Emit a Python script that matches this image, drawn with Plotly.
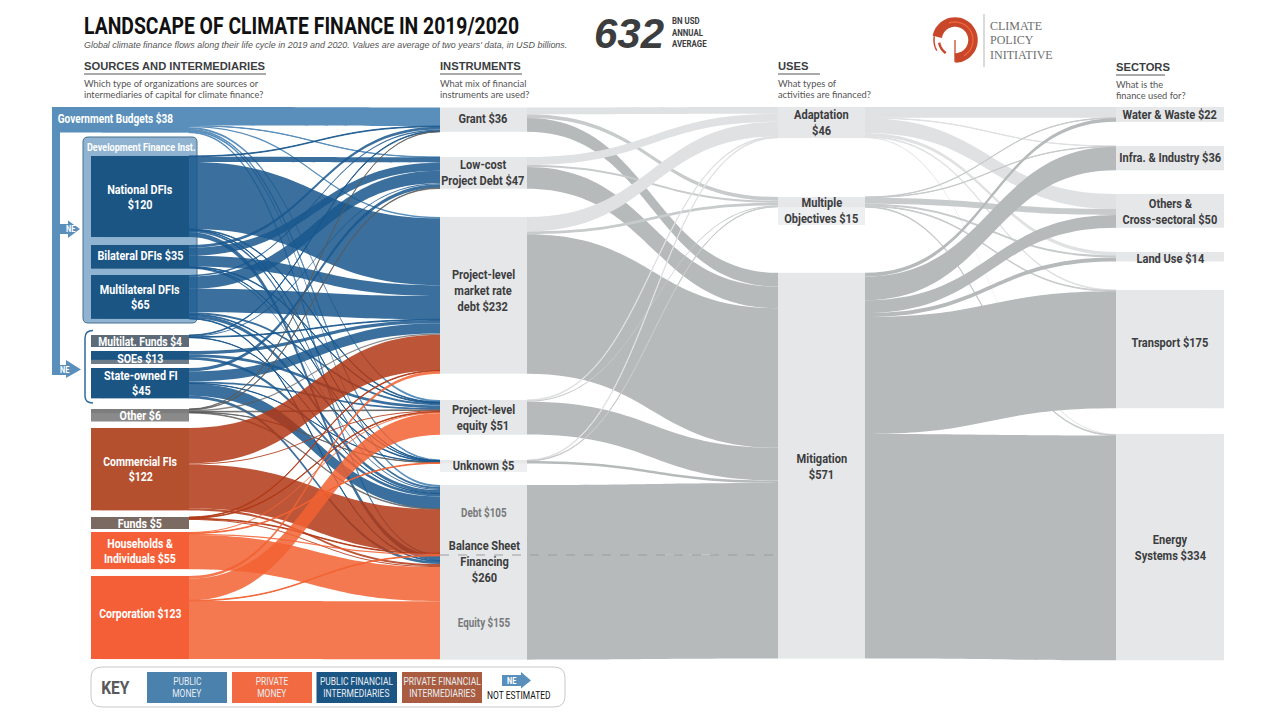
import numpy as np
import plotly.graph_objects as go

W, H = 1279, 719
COND = "Roboto, sans-serif"
SANS = "Lato, Open Sans, sans-serif"

# Values in USD bn
SOURCES = ["Government Budgets", "National DFIs", "Bilateral DFIs", "Multilateral DFIs", "Multilat. Funds",
           "SOEs", "State-owned FI", "Other", "Commercial FIs", "Funds", "Households & Individuals", "Corporation"]
INSTRUMENTS = ["Grant", "Low-cost Project Debt", "Project-level market rate debt", "Project-level equity",
               "Unknown", "Debt", "Equity"]
USES = ["Adaptation", "Multiple Objectives", "Mitigation"]
SECTORS = ["Water & Waste", "Infra. & Industry", "Others & Cross-sectoral", "Land Use", "Transport", "Energy Systems"]

# each row: grant, low-cost, market rate, project equity, unknown, bs debt, bs equity
GOV_FLOWS = [27.5, 0.5, 2, 3, 1, 3, 1]
NATIONAL_FLOWS = [1, 8, 99, 1, 0.5, 3, 7.5]
BILATERAL_FLOWS = [4, 12, 16, 1, 0.5, 1.5, 0]
MULTILATERAL_FLOWS = [2, 18.5, 34.5, 3, 1, 5, 1]
MULTI_FUND_FLOWS = [1, 1.5, 1, 0, 0, 0.5, 0]
SOE_FLOWS = [0, 0, 5, 4, 0, 4, 0]
STATE_FI_FLOWS = [0, 5, 15, 2.5, 0.5, 18, 4]
OTHER_FLOWS = [0.5, 1, 2, 1, 0.5, 1, 0]
COMMERCIAL_FLOWS = [0, 0, 52.5, 1.5, 0, 65, 3]
FUNDS_FLOWS = [0, 0, 1, 1, 0, 1, 1.5]
HOUSEHOLD_FLOWS = [0, 0, 0, 1.5, 1, 2, 50.5]
CORPORATE_FLOWS = [0, 0, 4, 32, 0, 1, 86]

# each row: adaptation, multiple, mitigation
GRANT_USES = [10, 5.5, 20.5]
LOW_COST_USES = [12, 3, 32]
MARKET_USES = [21.5, 4, 206.5]
EQUITY_USES = [1, 1.5, 48.5]
UNKNOWN_USES = [1, 0.5, 3.5]
BS_DEBT_USES = [0, 0, 105]
BS_EQUITY_USES = [0, 0, 155]

# each row: water, infra, others, land use, transport, energy
ADAPTATION_SECTORS = [16, 0.5, 22, 5, 1, 1.5]
MULTIPLE_SECTORS = [0.5, 0.5, 9, 3, 1, 1]
MITIGATION_SECTORS = [5.5, 35, 19, 6, 173, 332.5]

source_flows = [GOV_FLOWS, NATIONAL_FLOWS, BILATERAL_FLOWS, MULTILATERAL_FLOWS, MULTI_FUND_FLOWS, SOE_FLOWS,
                STATE_FI_FLOWS, OTHER_FLOWS, COMMERCIAL_FLOWS, FUNDS_FLOWS, HOUSEHOLD_FLOWS, CORPORATE_FLOWS]
use_flows = [GRANT_USES, LOW_COST_USES, MARKET_USES, EQUITY_USES, UNKNOWN_USES, BS_DEBT_USES, BS_EQUITY_USES]
sector_flows = [ADAPTATION_SECTORS, MULTIPLE_SECTORS, MITIGATION_SECTORS]

GOV = "#5a8fbc"
PUB_NODE = "#1b5583"
PUB_LINK = "rgba(25,87,141,0.85)"
COM_NODE = "#b5502f"
COM_LINK = "rgba(178,56,21,0.85)"
PRI_NODE = "#f55f38"
PRI_LINK = "rgba(242,98,49,0.85)"
GREY_NODE = "#e6e7e8"
GREY_LINK = "#b6babb"
PALE_LINK = "#e0e1e2"
MID_LINK = "#c8cbcc"

source_nodes = [GOV, PUB_NODE, PUB_NODE, PUB_NODE, "#5d6b78", PUB_NODE, PUB_NODE, "#7d7d7d", COM_NODE,
                "#7a6a62", PRI_NODE, PRI_NODE]
source_links = [GOV, PUB_LINK, PUB_LINK, PUB_LINK, PUB_LINK, PUB_LINK, PUB_LINK, "rgba(90,90,90,0.7)", COM_LINK,
                COM_LINK, PRI_LINK, PRI_LINK]
use_colours = [PALE_LINK, MID_LINK, GREY_LINK]

# top edge of each node in pixels
source_top = [107, 156, 245, 275, 335, 351, 368, 409, 428, 517, 532, 576]
instrument_top = [107.5, 157, 217, 400, 460, 485, 555]
use_top = [107, 197, 273]
sector_top = [107, 146, 194, 252, 290, 434]

KY = 0.675
THICK = 87
PAD = 26.64


def px(x):
    return x / W


def py(y):
    return 1 - y / H


labels = SOURCES + INSTRUMENTS + USES + SECTORS
n_src, n_ins, n_use = len(SOURCES), len(INSTRUMENTS), len(USES)

link_s, link_t, link_v, link_c = [], [], [], []
for i, row in enumerate(source_flows):
    for j, v in enumerate(row):
        if v > 0:
            link_s.append(i)
            link_t.append(n_src + j)
            link_v.append(v)
            link_c.append(source_links[i])
for i, row in enumerate(use_flows):
    for j, v in enumerate(row):
        if v > 0:
            link_s.append(n_src + i)
            link_t.append(n_src + n_ins + j)
            link_v.append(v)
            link_c.append(use_colours[j])
for i, row in enumerate(sector_flows):
    for j, v in enumerate(row):
        if v > 0:
            link_s.append(n_src + n_ins + i)
            link_t.append(n_src + n_ins + n_use + j)
            link_v.append(v)
            link_c.append(use_colours[i])

# a node's size is whichever of its in/out totals is larger
node_value = [max(sum(v for s, v in zip(link_s, link_v) if s == k),
                  sum(v for t, v in zip(link_t, link_v) if t == k)) for k in range(len(labels))]

tops = source_top + instrument_top + use_top + sector_top
lefts = [102] * n_src + [440] * n_ins + [778] * n_use + [1116] * len(SECTORS)
node_x = [(lf + THICK / 2) / W for lf in lefts]
node_y = [(t + v * KY / 2) / H for t, v in zip(tops, node_value)]
node_c = source_nodes + [GREY_NODE] * (n_ins + n_use + len(SECTORS))

fig = go.Figure(go.Sankey(
    arrangement="fixed",
    domain={"x": [0, 1], "y": [0, 1]},
    node={"label": [""] * len(labels), "x": node_x, "y": node_y, "color": node_c, "thickness": THICK, "pad": PAD,
          "line": {"width": 0}, "customdata": labels, "hovertemplate": "%{customdata}<extra></extra>"},
    link={"source": link_s, "target": link_t, "value": link_v, "color": link_c, "line": {"width": 0}},
))

shapes = []


def rect(x0, y0, x1, y1, colour, layer="below", line=None, **kw):
    shapes.append(dict(type="rect", xref="paper", yref="paper", x0=px(x0), x1=px(x1), y0=py(y0), y1=py(y1),
                       fillcolor=colour, line=line or {"width": 0}, layer=layer, **kw))


def hline(x0, x1, y, colour, width=1, dash="solid", layer="above"):
    shapes.append(dict(type="line", xref="paper", yref="paper", x0=px(x0), x1=px(x1), y0=py(y), y1=py(y),
                       line={"color": colour, "width": width, "dash": dash}, layer=layer))


def poly(points, fill=None, line=None, layer="below", closed=True):
    d = "M " + " L ".join(f"{px(x):.5f},{py(y):.5f}" for x, y in points)
    shapes.append(dict(type="path", xref="paper", yref="paper", path=d + (" Z" if closed else ""),
                       fillcolor=fill, line=line or {"width": 0}, layer=layer))


def arc(cx, cy, r, a0, a1, colour, width):
    angles = np.radians(np.linspace(a0, a1, 40))
    poly(list(zip(cx + r * np.cos(angles), cy + r * np.sin(angles))), line={"color": colour, "width": width},
         closed=False, layer="above")


def rounded(x0, y0, x1, y1, r, fill, line):
    d = (f"M {px(x0 + r)},{py(y0)} L {px(x1 - r)},{py(y0)} Q {px(x1)},{py(y0)} {px(x1)},{py(y0 + r)} "
         f"L {px(x1)},{py(y1 - r)} Q {px(x1)},{py(y1)} {px(x1 - r)},{py(y1)} L {px(x0 + r)},{py(y1)} "
         f"Q {px(x0)},{py(y1)} {px(x0)},{py(y1 - r)} L {px(x0)},{py(y0 + r)} Q {px(x0)},{py(y0)} {px(x0 + r)},{py(y0)} Z")
    shapes.append(dict(type="path", xref="paper", yref="paper", path=d, fillcolor=fill, line=line, layer="below"))


# development finance box, government strip and NE arrows
rounded(83, 137, 197, 323, 5, "#8fb3d0", {"color": "#46708f", "width": 1})
rect(52, 107, 102, 132.5, GOV)
rect(52, 132, 60, 375, GOV)
poly([(60, 224), (68, 224), (68, 220.5), (80, 229), (68, 238), (68, 234), (60, 234)], fill=GOV)
poly([(52, 365), (66, 365), (66, 360), (81, 369.5), (66, 378), (66, 375), (52, 375)], fill=GOV)

# bracket around the state-owned group
d = (f"M {px(93)},{py(330.5)} Q {px(85)},{py(330.5)} {px(85)},{py(338)} L {px(85)},{py(396)} "
     f"Q {px(85)},{py(403)} {px(93)},{py(403)}")
shapes.append(dict(type="path", xref="paper", yref="paper", path=d, line={"color": "#2f6b9c", "width": 1.5},
                   layer="below"))

# label boxes behind nodes that are too thin for their text
rect(91, 335, 189, 347, "#5d6b78")
rect(91, 351, 189, 364, "#6d7c88")
rect(91, 409, 189, 421.5, "#8a8a8a")
rect(91, 517, 189, 529, "#7a6a62")
rect(778, 197, 865, 225, "#eeeff0")
rect(440, 460, 527, 472, "#eeeff0")

# left part of source nodes and right part of sector nodes, wider than the sankey thickness
for k in range(1, n_src):
    rect(91, source_top[k], 102.5, source_top[k] + node_value[k] * KY, source_nodes[k])
sector_start = n_src + n_ins + n_use
for k in range(len(SECTORS)):
    rect(1202.5, sector_top[k], 1224, sector_top[k] + node_value[sector_start + k] * KY, GREY_NODE)

# balance sheet split line
hline(440, 778, 555, "#9b9d9f", 1, "dash")

# section rules and logo
hline(84, 266, 74, "#555555")
hline(440, 522, 74, "#555555")
hline(778, 820, 74, "#555555")
hline(1116, 1165, 75, "#555555")
shapes.append(dict(type="line", xref="paper", yref="paper", x0=px(984), x1=px(984), y0=py(14), y1=py(67),
                   line={"color": "#b5b5b5", "width": 1}))
arc(955, 40, 18, -170, 90, "#c8472b", 9.5)
arc(955, 40, 18, -110, 60, "#f0663a", 1.3)
arc(955, 40, 21, 150, 190, "#c8472b", 1.5)
arc(955, 40, 16, 125, 170, "#c8472b", 2.5)
shapes.append(dict(type="line", xref="paper", yref="paper", x0=px(955), x1=px(955), y0=py(40), y1=py(62),
                   line={"color": "#c8472b", "width": 1.3}))

# key
rounded(91, 667, 565, 707, 11, "white", {"color": "#c9c9c9", "width": 1})
KEY_BOXES = [(147, 227, "#4a81ad", "PUBLIC<br>MONEY"), (232, 312, "#f26a41", "PRIVATE<br>MONEY"),
             (316.5, 397, PUB_NODE, "PUBLIC FINANCIAL<br>INTERMEDIARIES"),
             (402, 482, "#a95c3f", "PRIVATE FINANCIAL<br>INTERMEDIARIES")]
for x0, x1, colour, _ in KEY_BOXES:
    rect(x0, 672, x1, 703, colour)
poly([(502, 675), (521, 675), (521, 672), (531, 680.5), (521, 688.5), (521, 686), (502, 686)], fill=GOV)

notes = []


def text(x, y, s, size=12, colour="white", font=COND, anchor="center", bold=True, italic=False):
    # one annotation per line, plotly's own line spacing is looser than the original's
    lines = s.split("<br>")
    gap = size * 1.2
    for i, line in enumerate(lines):
        if bold:
            line = "<b>" + line + "</b>"
        if italic:
            line = "<i>" + line + "</i>"
        notes.append(dict(xref="paper", yref="paper", x=px(x), y=py(y + (i - (len(lines) - 1) / 2) * gap), text=line,
                          showarrow=False, xanchor=anchor, yanchor="middle", align=anchor, borderpad=0, borderwidth=0,
                          font={"family": font, "size": size, "color": colour}))


DARK = "#3c3d3f"
text(84, 26, "LANDSCAPE OF CLIMATE FINANCE IN 2019/2020", 23.6, "#111111", anchor="left")
text(84, 45, "Global climate finance flows along their life cycle in 2019 and 2020. Values are average of two "
     "years' data, in USD billions.", 8.95, "#555555", "Liberation Sans", "left", False, True)
text(594, 33, "632", 42, DARK, "Liberation Sans", "left", True, True)
text(672, 32, "BN USD<br>ANNUAL<br>AVERAGE", 9.6, DARK, anchor="left")
text(990, 40.5, "CLIMATE<br>POLICY<br>INITIATIVE", 12, "#6d6e70", "Liberation Serif", "left", False)

text(84, 66, "SOURCES AND INTERMEDIARIES", 11.2, "#3c3d3f", "Liberation Sans", "left")
text(440, 66, "INSTRUMENTS", 11.2, "#3c3d3f", "Liberation Sans", "left")
text(778, 66, "USES", 11.2, "#3c3d3f", "Liberation Sans", "left")
text(1116, 67, "SECTORS", 11.2, "#3c3d3f", "Liberation Sans", "left")
text(84, 89, "Which type of organizations are sources or<br>intermediaries of capital for climate finance?",
     9.3, "#555555", SANS, "left", False)
text(440, 89, "What mix of financial<br>instruments are used?", 9.3, "#555555", SANS, "left", False)
text(778, 89, "What types of<br>activities are financed?", 9.3, "#555555", SANS, "left", False)
text(1116, 90, "What is the<br>finance used for?", 9.3, "#555555", SANS, "left", False)

text(116, 119, "Government Budgets $38", 12.3)
text(141, 147, "Development Finance Inst.", 11.1)
text(140, 197, "National DFIs<br>$120", 13.2)
text(140, 256, "Bilateral DFIs $35", 13.2)
text(140, 297, "Multilateral DFIs<br>$65", 13.2)
text(140, 341, "Multilat. Funds $4", 12.6)
text(140, 358, "SOEs $13", 13)
text(141, 383, "State-owned FI<br>$45", 13.2)
text(140, 415.5, "Other $6", 13)
text(140, 469, "Commercial FIs<br>$122", 12.8)
text(140, 523, "Funds $5", 13)
text(140, 551, "Households &<br>Individuals $55", 12.8)
text(140, 613, "Corporation $123", 12.8)

text(483.5, 118, "Grant $36", 13.5, DARK)
text(483.5, 172, "Low-cost<br>Project Debt $47", 13.5, DARK)
text(483.5, 290, "Project-level<br>market rate<br>debt $232", 13.5, DARK)
text(483.5, 417, "Project-level<br>equity $51", 13.5, DARK)
text(483.5, 465, "Unknown $5", 13.5, DARK)
text(484, 513, "Debt $105", 12, "#77797b")
text(484, 561, "Balance Sheet<br>Financing<br>$260", 13.5, DARK)
text(484, 623, "Equity $155", 12, "#77797b")

text(821.5, 122, "Adaptation<br>$46", 13.5, DARK)
text(821.5, 210, "Multiple<br>Objectives $15", 13.5, DARK)
text(821.5, 466, "Mitigation<br>$571", 13.5, DARK)

text(1170, 114, "Water & Waste $22", 13.5, DARK)
text(1170, 157, "Infra. & Industry $36", 13.5, DARK)
text(1170, 211, "Others &<br>Cross-sectoral $50", 13.5, DARK)
text(1170, 258, "Land Use $14", 13.5, DARK)
text(1170, 342, "Transport $175", 13.5, DARK)
text(1170, 547, "Energy<br>Systems $334", 13.5, DARK)

text(116, 687, "KEY", 19, "#58595b", COND)
for x0, x1, _, label in KEY_BOXES:
    text((x0 + x1) / 2, 687.5, label, 10.3, "#e8eef3", COND, "center", False)
text(511, 680.5, "NE", 9)
text(519, 695, "NOT ESTIMATED", 10.3, "#111111", COND, "center", False)
text(70, 229, "NE", 9)
text(64, 370, "NE", 9)

fig.update_layout(width=W, height=H, margin={"l": 0, "r": 0, "t": 0, "b": 0}, paper_bgcolor="white",
                  shapes=shapes, annotations=notes, showlegend=False)

# no condensed face is installed, so squeeze the Roboto labels sideways
POST = """
document.body.style.margin = '0';
document.querySelectorAll('text.annotation-text').forEach(function (t) {
    if (t.style.fontFamily.indexOf('Roboto') < 0) { return; }
    t.style.transformBox = 'fill-box';
    t.style.transformOrigin = t.getAttribute('text-anchor') === 'start' ? 'left center' : 'center';
    t.style.transform = 'scaleX(0.82)';
});
"""
fig.write_html("out.html", post_script=POST, config={"displayModeBar": False})
